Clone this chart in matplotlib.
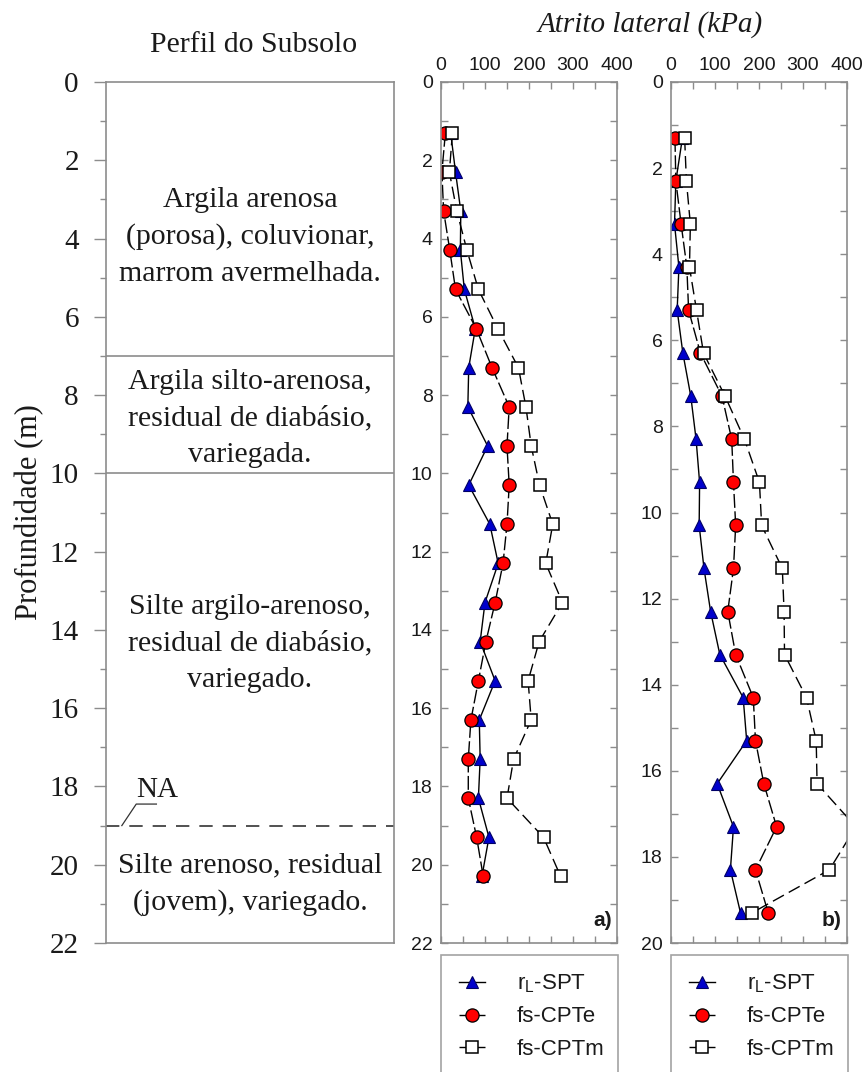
import matplotlib
matplotlib.use("Agg")
import matplotlib.pyplot as plt
from matplotlib.ticker import MultipleLocator

SERIF = "Liberation Serif"
SANS = "Liberation Sans"
GRAY = "#8c8c8c"

# soil profile
layer_bounds = [7, 10]
water_level = 19
layer_texts = [
    "Argila arenosa\n(porosa), coluvionar,\nmarrom avermelhada.",
    "Argila silto-arenosa,\nresidual de diabásio,\nvariegada.",
    "Silte argilo-arenoso,\nresidual de diabásio,\nvariegado.",
    "Silte arenoso, residual\n(jovem), variegado.",
]
layer_text_depths = [3.95, 8.6, 14.35, 20.5]

# panel a)
depth_a = [1.3, 2.3, 3.3, 4.3, 5.3, 6.3, 7.3, 8.3, 9.3, 10.3,
           11.3, 12.3, 13.3, 14.3, 15.3, 16.3, 17.3, 18.3, 19.3, 20.3]
rl_spt_a = [22, 33, 45, 44, 53, 78, 63, 61, 106, 63,
            111, 130, 100, 89, 123, 87, 89, 85, 109, 93]
fs_cpte_a = [10, 2, 6, 20, 33, 80, 116, 155, 150, 155,
             150, 141, 123, 102, 85, 68, 62, 62, 81, 96]
fs_cptm_a = [26, 19, 36, 59, 85, 129, 176, 193, 205, 224,
             254, 238, 276, 223, 198, 205, 165, 150, 233, 272]

# panel b)
depth_b = [1.3, 2.3, 3.3, 4.3, 5.3, 6.3, 7.3, 8.3, 9.3, 10.3,
           11.3, 12.3, 13.3, 14.3, 15.3, 16.3, 17.3, 18.3, 19.3]
rl_spt_b = [26, 11, 8, 18, 14, 27, 45, 57, 65, 64,
            75, 90, 111, 164, 172, 105, 142, 135, 158]
fs_cpte_b = [9, 11, 23, 36, 40, 67, 116, 138, 142, 147,
             142, 129, 147, 187, 192, 211, 240, 192, 221]
fs_cptm_b = [31, 35, 44, 42, 58, 74, 123, 167, 201, 206,
             253, 257, 258, 308, 330, 332, 420, 360, 184]

labels = [r"r$_\mathregular{L}$-SPT", "fs-CPTe", "fs-CPTm"]

plt.rcParams["font.family"] = [SANS, "DejaVu Sans"]
plt.rcParams["mathtext.fontset"] = "custom"
plt.rcParams["mathtext.rm"] = SANS

W, H = 866, 1072
fig = plt.figure(figsize=(W / 100, H / 100), dpi=100)


def fx(px):
    return px / W


def fy(py):
    return 1 - py / H


top, bottom = 82, 943

# ---- soil profile column
ax0 = fig.add_axes([fx(106), fy(bottom), fx(394 - 106), fy(top) - fy(bottom)])
ax0.set_xlim(0, 1)
ax0.set_ylim(22, 0)
for s in ax0.spines.values():
    s.set_color(GRAY)
    s.set_linewidth(1.2)
ax0.set_xticks([])
ax0.yaxis.set_major_locator(MultipleLocator(2))
ax0.yaxis.set_minor_locator(MultipleLocator(1))
ax0.tick_params(axis="y", which="major", direction="out", length=8.6, width=1,
                color=GRAY, labelsize=21, pad=11)
ax0.tick_params(axis="y", which="minor", direction="out", length=4.5, width=1,
                color=GRAY)
for t in ax0.get_yticklabels():
    t.set_fontfamily(SERIF)
    t.set_color("#1a1a1a")
ax0.set_ylabel("Profundidade (m)", fontfamily=SERIF, fontsize=22,
               color="#1a1a1a")
ax0.yaxis.set_label_coords(-0.215, 0.5)

for d in layer_bounds:
    ax0.axhline(d, color=GRAY, lw=1.2)
ax0.axhline(water_level, color="#333333", lw=1.2, dashes=(8, 6))
for txt, d in zip(layer_texts, layer_text_depths):
    ax0.text(0.5, d, txt, ha="center", va="center", fontfamily=SERIF,
             fontsize=21.5, linespacing=1.52, color="#1a1a1a")
ax0.text(0.177, 18.1, "NA", ha="center", va="center", fontfamily=SERIF,
         fontsize=21, color="#1a1a1a")
ax0.plot([0.055, 0.105, 0.175], [19.0, 18.45, 18.45], color="#333333",
         lw=0.9, clip_on=False)

fig.text(fx(254), fy(45), "Perfil do Subsolo", ha="center", va="center",
         fontfamily=SERIF, fontsize=21.5, color="#1a1a1a")
fig.text(fx(650), fy(25), "Atrito lateral (kPa)", ha="center", va="center",
         fontfamily=SERIF, fontsize=21, style="italic", color="#1a1a1a")


def panel(left, depth, rl, cpte, cptm, ymax, tag):
    ax = fig.add_axes([fx(left), fy(bottom), fx(176), fy(top) - fy(bottom)])
    l1, = ax.plot(rl, depth, color="black", lw=1, marker="^", ms=9,
                  mfc="#0000cc", mec="#000066", mew=0.8)
    l2, = ax.plot(cpte, depth, color="black", lw=1, dashes=(10, 2.5),
                  marker="o", ms=9.5, mfc="#ff0000", mec="black", mew=0.9)
    l3, = ax.plot(cptm, depth, color="black", lw=1, dashes=(9, 4),
                  marker="s", ms=8.5, mfc="white", mec="black", mew=1.1)
    ax.set_xlim(0, 400)
    ax.set_ylim(ymax, 0)
    for s in ax.spines.values():
        s.set_color(GRAY)
        s.set_linewidth(1.2)
    ax.xaxis.set_major_locator(MultipleLocator(100))
    ax.xaxis.set_minor_locator(MultipleLocator(50))
    ax.yaxis.set_major_locator(MultipleLocator(2))
    ax.yaxis.set_minor_locator(MultipleLocator(1))
    ax.tick_params(which="both", direction="in", top=True, bottom=True,
                   left=True, right=True, labeltop=True, labelbottom=False,
                   length=5, width=1, color=GRAY, labelsize=14, pad=6,
                   labelcolor="#1a1a1a")
    ax.text(0.97, 0.015, tag, transform=ax.transAxes, ha="right",
            va="bottom", fontsize=15, fontweight="bold", color="#1a1a1a")
    leg = fig.legend([l1, l2, l3], labels, loc="upper left",
                     bbox_to_anchor=(fx(left), fy(955), fx(177), 0),
                     mode="expand", fontsize=16, frameon=True, fancybox=False,
                     edgecolor=GRAY, handlelength=1.2, handletextpad=1.4,
                     borderpad=0.8, labelspacing=0.5,
                     borderaxespad=0, numpoints=1)
    leg.get_frame().set_linewidth(1.2)
    for t in leg.get_texts():
        t.set_color("#1a1a1a")
    return ax


panel(441, depth_a, rl_spt_a, fs_cpte_a, fs_cptm_a, 22, "a)")
panel(671, depth_b, rl_spt_b, fs_cpte_b, fs_cptm_b, 20, "b)")

fig.savefig("out.png", dpi=100)
